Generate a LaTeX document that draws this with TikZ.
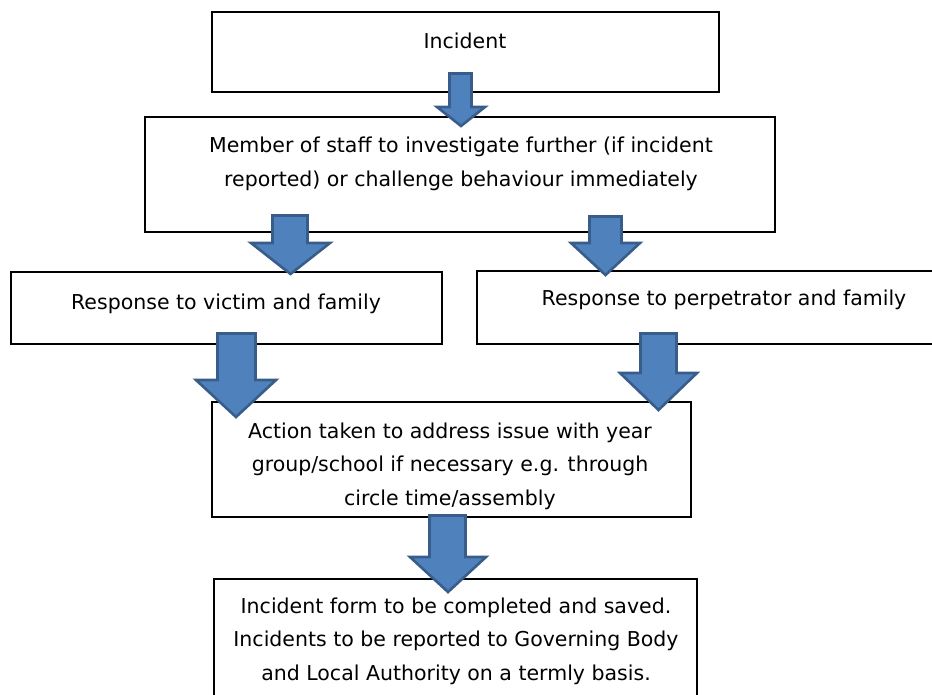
\documentclass[tikz,border=0pt]{standalone}
\usepackage{fontspec}
\setmainfont{DejaVu Sans}
\usepackage{tikz}
\usetikzlibrary{calc}

\definecolor{arrowfill}{RGB}{79,129,189}
\definecolor{arrowline}{RGB}{56,93,138}

\tikzset{
  box/.style={draw=black, line width=1.5pt, fill=white},
  txt/.style={font=\fontsize{20.5}{33.5}\selectfont, align=center, inner sep=0pt},
  bigarrow/.style={fill=arrowfill, draw=arrowline, line width=2.6pt, line join=miter}
}

% shaft left, shaft right, top, head left, head right, head base, tip
\newcommand{\blockarrow}[7]{%
  \draw[bigarrow] (#1,#3) -- (#2,#3) -- (#2,#6) -- (#5,#6)
    -- ({(#4+#5)/2},#7) -- (#4,#6) -- (#1,#6) -- cycle;}

\begin{document}
\begin{tikzpicture}[x=1pt,y=-1pt]
\useasboundingbox (0,0) rectangle (932,695);
% boxes
\draw[box] (212,12) rectangle (719,92);
\draw[box] (145,117) rectangle (775,232);
\draw[box] (11,272) rectangle (442,344);
\draw[box] (477,271) rectangle (940,344);
\draw[box] (212,402) rectangle (691,517);
\draw[box] (214,579) rectangle (697,705);
% arrows
\blockarrow{449.5}{471.5}{73.5}{437}{485}{107}{126}
\blockarrow{272.5}{307.5}{215.5}{251}{330}{243}{274}
\blockarrow{589.5}{621.5}{216.5}{571}{640}{243}{275}
\blockarrow{217.5}{255.5}{333.5}{196}{276}{380}{417}
\blockarrow{640.5}{676.5}{333.5}{620}{697}{373}{410}
\blockarrow{429.5}{465.5}{515.5}{410}{486}{557}{592}
% texts
\node[txt] (incident) at (465,41) {Incident};
\node[txt] (staff) at (461,164) {Member of staff to investigate further (if incident\\reported) or challenge behaviour immediately};
\node[txt] (victim) at (226,304) {Response to victim and family};
\node[txt] (perp) at (724,300) {Response to perpetrator and family};
\node[txt] (action) at (450,466) {Action taken to address issue with year\\group/school if necessary e.g. through\\circle time/assembly};
\node[txt] (form) at (456,641) {Incident form to be completed and saved.\\Incidents to be reported to Governing Body\\and Local Authority on a termly basis.};
\end{tikzpicture}
\end{document}
